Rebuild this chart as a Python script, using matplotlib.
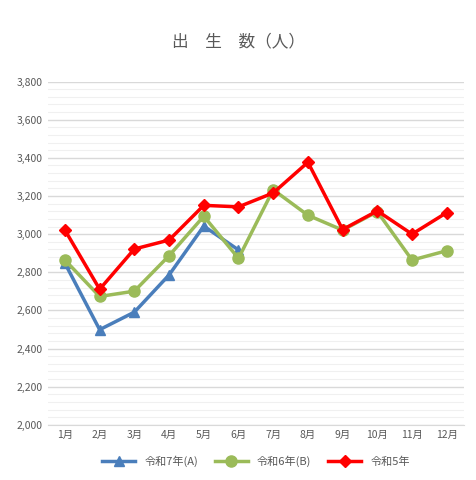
import matplotlib
matplotlib.use("Agg")
import matplotlib.pyplot as plt
from matplotlib.ticker import MultipleLocator, FuncFormatter

plt.rcParams['font.family'] = ['Noto Sans CJK JP', 'DejaVu Sans']

months = ["1月","2月","3月","4月","5月","6月","7月","8月","9月","10月","11月","12月"]
r7 = [2847, 2499, 2591, 2786, 3042, 2917]
r6 = [2864, 2673, 2701, 2887, 3094, 2873, 3233, 3099, 3021, 3118, 2864, 2913]
r5 = [3021, 2711, 2922, 2969, 3151, 3143, 3216, 3377, 3024, 3122, 3000, 3113]

fig, ax = plt.subplots(figsize=(4.76, 4.8), dpi=100)
fig.subplots_adjust(left=0.1, right=0.975, top=0.83, bottom=0.115)
x = list(range(len(months)))
ax.plot(x[:len(r7)], r7, color='#4a7ebb', lw=2.5, marker='^', ms=7, label='令和7年(A)')
ax.plot(x, r6, color='#9bbb59', lw=2.5, marker='o', ms=8, label='令和6年(B)')
ax.plot(x, r5, color='#ff0000', lw=2.5, marker='D', ms=6, label='令和5年')

ax.set_ylim(2000, 3800)
ax.set_xlim(-0.5, 11.5)
ax.yaxis.set_major_locator(MultipleLocator(200))
ax.yaxis.set_minor_locator(MultipleLocator(40))
ax.yaxis.set_major_formatter(FuncFormatter(lambda v, p: f"{int(v):,}"))
ax.grid(axis='y', which='major', color='#d9d9d9', lw=1)
ax.grid(axis='y', which='minor', color='#f0f0f0', lw=0.8)
ax.set_axisbelow(True)
ax.set_xticks(x)
ax.set_xticklabels(months)
ax.tick_params(axis='both', length=0, labelsize=7.5, colors='#595959')
ax.tick_params(axis='y', which='minor', length=0)
for s in ['top', 'right', 'left']:
    ax.spines[s].set_visible(False)
ax.spines['bottom'].set_color('#d9d9d9')
fig.suptitle('出　生　数（人）', y=0.93, fontsize=12, color='#595959')
ax.legend(loc='upper center', bbox_to_anchor=(0.5, -0.06), ncol=3, frameon=False,
          fontsize=8, handlelength=3, columnspacing=1.5, labelcolor='#595959')
fig.savefig('out.png')
